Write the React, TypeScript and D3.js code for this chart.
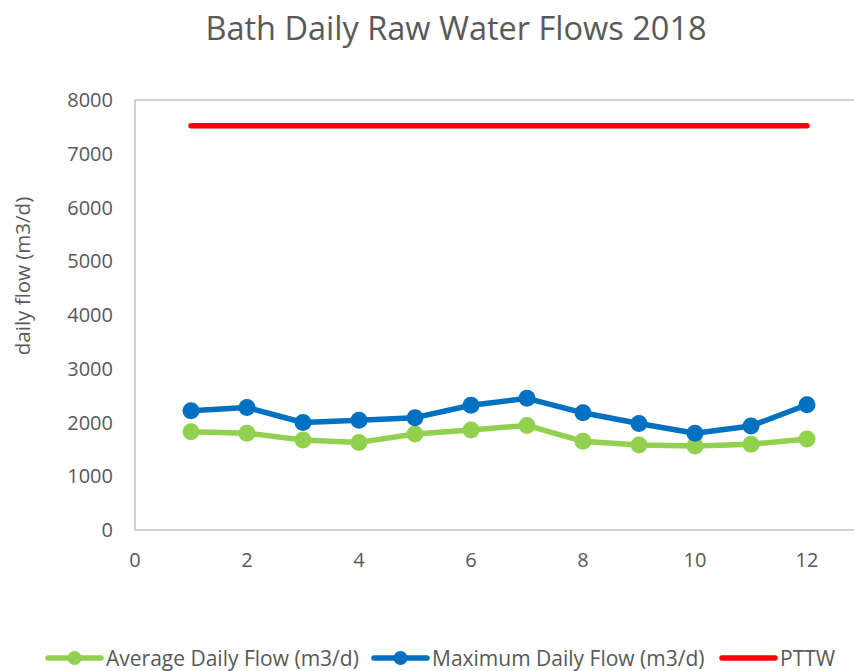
import React from "react";
import * as d3 from "d3";

const months = [1, 2, 3, 4, 5, 6, 7, 8, 9, 10, 11, 12];
const avgFlow = [1830, 1800, 1675, 1630, 1785, 1860, 1945, 1650, 1580, 1565, 1595, 1695];
const maxFlow = [2220, 2280, 2000, 2040, 2090, 2320, 2450, 2180, 1980, 1800, 1935, 2330];
const pttw = [7520, 7520];
const pttwX = [1, 12];
const xTicks = [0, 2, 4, 6, 8, 10, 12];
const yTicks = [0, 1000, 2000, 3000, 4000, 5000, 6000, 7000, 8000];

const W = 854;
const H = 671;
const FONT = "'Open Sans', sans-serif";
const TXT = "#595959";

const App = () => {
  // right side of the plot runs off the picture (x max 14)
  const x = d3.scaleLinear().domain([0, 14]).range([135, 919]);
  const y = d3.scaleLinear().domain([0, 8000]).range([530, 100]);

  const line = d3
    .line<number>()
    .x((_, i) => x(months[i]))
    .y((d) => y(d));

  const pttwLine = d3
    .line<number>()
    .x((_, i) => x(pttwX[i]))
    .y((d) => y(d));

  const series = [
    { name: "Average Daily Flow (m3/d)", values: avgFlow, color: "#92D050" },
    { name: "Maximum Daily Flow (m3/d)", values: maxFlow, color: "#0070C0" },
  ];

  const legend = [
    { name: "Average Daily Flow (m3/d)", color: "#92D050", marker: true, x: 48 },
    { name: "Maximum Daily Flow (m3/d)", color: "#0070C0", marker: true, x: 374 },
    { name: "PTTW", color: "#FF0000", marker: false, x: 722 },
  ];

  return (
    <svg
      width={W}
      height={H}
      style={{ position: "absolute", left: 0, top: 0, background: "#fff" }}
      fontFamily={FONT}
    >
      <text x={456} y={40} textAnchor="middle" fontSize={32.5} fill={TXT}>
        Bath Daily Raw Water Flows 2018
      </text>

      {/* plot frame */}
      <line x1={x(0)} x2={W} y1={y(8000)} y2={y(8000)} stroke="#bfbfbf" strokeWidth={1.5} />
      <line x1={x(0)} x2={W} y1={y(0)} y2={y(0)} stroke="#bfbfbf" strokeWidth={1.5} />
      <line x1={x(0)} x2={x(0)} y1={y(0)} y2={y(8000)} stroke="#bfbfbf" strokeWidth={1.5} />

      {yTicks.map((t) => (
        <text key={t} x={x(0) - 22} y={y(t) + 7} textAnchor="end" fontSize={20} fill={TXT}>
          {t}
        </text>
      ))}
      {xTicks.map((t) => (
        <text key={t} x={x(t)} y={y(0) + 37} textAnchor="middle" fontSize={20} fill={TXT}>
          {t}
        </text>
      ))}

      <text
        transform={`translate(30,276) rotate(-90)`}
        textAnchor="middle"
        fontSize={20.5}
        fill={TXT}
      >
        daily flow (m3/d)
      </text>

      <path d={pttwLine(pttw) || ""} fill="none" stroke="#FF0000" strokeWidth={5.5} strokeLinecap="round" />

      {series.map((s) => (
        <g key={s.name}>
          <path
            d={line(s.values) || ""}
            fill="none"
            stroke={s.color}
            strokeWidth={5.5}
            strokeLinejoin="round"
          />
          {s.values.map((v, i) => (
            <circle key={i} cx={x(months[i])} cy={y(v)} r={8.5} fill={s.color} />
          ))}
        </g>
      ))}

      {legend.map((l) => (
        <g key={l.name} transform={`translate(${l.x},658)`}>
          <line x1={0} x2={53} y1={0} y2={0} stroke={l.color} strokeWidth={5.5} strokeLinecap="round" />
          {l.marker && <circle cx={26.5} cy={0} r={7} fill={l.color} />}
          <text x={58} y={7.5} fontSize={21} fill={TXT}>
            {l.name}
          </text>
        </g>
      ))}
    </svg>
  );
};

export default App;
